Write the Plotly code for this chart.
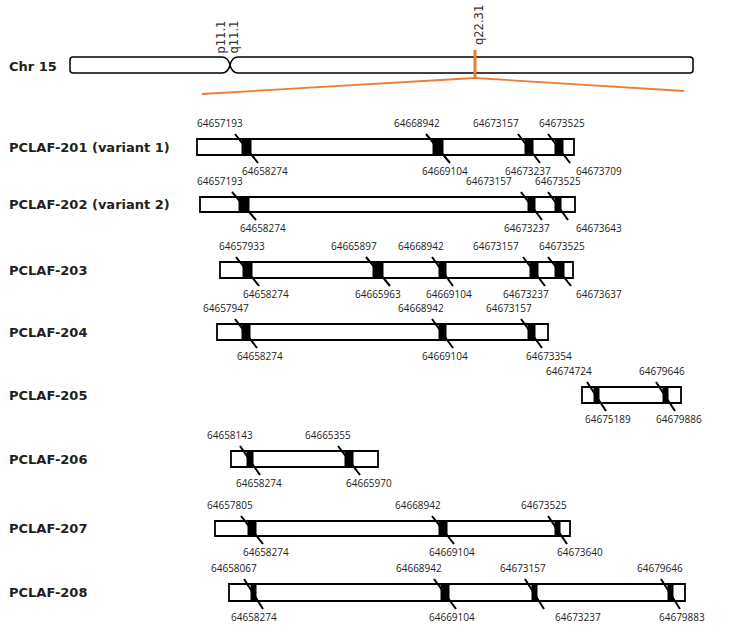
import plotly.graph_objects as go

# ---------------- data ----------------
chromosome = "Chr 15"
bands_centromere = ["p11.1", "q11.1"]
band_locus = "q22.31"

transcripts = [
    "PCLAF-201 (variant 1)",
    "PCLAF-202 (variant 2)",
    "PCLAF-203",
    "PCLAF-204",
    "PCLAF-205",
    "PCLAF-206",
    "PCLAF-207",
    "PCLAF-208",
]
exon_starts = [
    [64657193, 64668942, 64673157, 64673525],
    [64657193, 64673157, 64673525],
    [64657933, 64665897, 64668942, 64673157, 64673525],
    [64657947, 64668942, 64673157],
    [64674724, 64679646],
    [64658143, 64665355],
    [64657805, 64668942, 64673525],
    [64658067, 64668942, 64673157, 64679646],
]
exon_ends = [
    [64658274, 64669104, 64673237, 64673709],
    [64658274, 64673237, 64673643],
    [64658274, 64665963, 64669104, 64673237, 64673637],
    [64658274, 64669104, 64673354],
    [64675189, 64679886],
    [64658274, 64665970],
    [64658274, 64669104, 64673640],
    [64658274, 64669104, 64673237, 64679883],
]

# ------------- schematic layout (drawing units, not data) -------------
row_box = [  # x0, x1, y0, y1
    (197, 574, 139, 155),
    (200, 575, 197, 212),
    (220, 573, 262, 278),
    (217, 548, 324, 340),
    (582, 681, 387, 403),
    (231, 378, 451, 467),
    (215, 570, 521, 536),
    (229, 685, 584, 601),
]
row_exons = [
    [(242, 251), (433, 443), (525, 533), (555, 563)],
    [(239, 249), (528, 535), (555, 561)],
    [(243, 252), (373, 383), (439, 446), (530, 538), (555, 564)],
    [(242, 250), (439, 446), (528, 535)],
    [(594, 599), (663, 668)],
    [(247, 253), (345, 353)],
    [(248, 256), (439, 447), (555, 560)],
    [(251, 256), (441, 449), (532, 537), (668, 673)],
]
row_up_x = [
    [220, 417, 496, 562],
    [220, 489, 558],
    [242, 354, 421, 496, 562],
    [226, 421, 509],
    [569, 662],
    [230, 328],
    [230, 418, 544],
    [234, 419, 523, 660],
]
row_low_x = [
    [265, 445, 528, 599],
    [263, 527, 599],
    [266, 378, 449, 526, 599],
    [260, 445, 549],
    [608, 679],
    [259, 369],
    [266, 452, 580],
    [254, 452, 578, 682],
]

W, H = 729, 625
ORANGE = "#ED7D31"
TXT = "#231f20"
NUMFONT = dict(family="Open Sans", size=10, color="#222222")

shapes = []
annotations = []

# chromosome ideogram
chr_y0, chr_y1, chr_x0, chr_x1, cen = 57, 73, 70, 693, 230
ym = (chr_y0 + chr_y1) / 2
path = (
    f"M {chr_x0+3},{chr_y0} L {cen-8},{chr_y0} Q {cen-2},{chr_y0} {cen},{ym} "
    f"Q {cen+2},{chr_y0} {cen+8},{chr_y0} L {chr_x1-3},{chr_y0} "
    f"Q {chr_x1},{chr_y0} {chr_x1},{chr_y0+3} L {chr_x1},{chr_y1-3} "
    f"Q {chr_x1},{chr_y1} {chr_x1-3},{chr_y1} L {cen+8},{chr_y1} "
    f"Q {cen+2},{chr_y1} {cen},{ym} Q {cen-2},{chr_y1} {cen-8},{chr_y1} "
    f"L {chr_x0+3},{chr_y1} Q {chr_x0},{chr_y1} {chr_x0},{chr_y1-3} "
    f"L {chr_x0},{chr_y0+3} Q {chr_x0},{chr_y0} {chr_x0+3},{chr_y0} Z"
)
shapes.append(dict(type="path", path=path, xref="x", yref="y",
                   line=dict(color="black", width=1.5), fillcolor="white"))

locus_x = 475
shapes.append(dict(type="line", xref="x", yref="y", x0=locus_x, x1=locus_x, y0=50, y1=78,
                   line=dict(color=ORANGE, width=3)))
shapes.append(dict(type="line", xref="x", yref="y", x0=locus_x, x1=202, y0=78, y1=94,
                   line=dict(color=ORANGE, width=1.8)))
shapes.append(dict(type="line", xref="x", yref="y", x0=locus_x, x1=684, y0=78, y1=91,
                   line=dict(color=ORANGE, width=1.8)))

annotations.append(dict(x=7, y=ym + 1, text=f"<b>{chromosome}</b>", xanchor="left", yanchor="middle",
                        showarrow=False, font=dict(family="DejaVu Sans", size=13, color=TXT)))
for name, xx in zip(bands_centromere, [220, 233]):
    annotations.append(dict(x=xx, y=56, text=name, textangle=-90, xanchor="center", yanchor="bottom",
                            showarrow=False, font=dict(family="DejaVu Sans", size=11.5, color="#333333")))
annotations.append(dict(x=479, y=47, text=band_locus, textangle=-90, xanchor="center", yanchor="bottom",
                        showarrow=False, font=dict(family="DejaVu Sans", size=11.5, color="#333333")))

# transcripts
for i, name in enumerate(transcripts):
    x0, x1, y0, y1 = row_box[i]
    yc = (y0 + y1) / 2
    annotations.append(dict(x=7, y=yc, text=f"<b>{name}</b>", xanchor="left", yanchor="middle",
                            showarrow=False, font=dict(family="DejaVu Sans", size=13, color=TXT)))
    shapes.append(dict(type="rect", xref="x", yref="y", x0=x0, x1=x1, y0=y0, y1=y1,
                       line=dict(color="black", width=1.8), fillcolor="white", layer="above"))
    for j, (ex0, ex1) in enumerate(row_exons[i]):
        shapes.append(dict(type="line", xref="x", yref="y", x0=ex0 - 7, y0=y0 - 5, x1=ex1 + 7, y1=y1 + 8,
                           line=dict(color="black", width=2), layer="above"))
        shapes.append(dict(type="rect", xref="x", yref="y", x0=ex0, x1=ex1, y0=y0, y1=y1,
                           line=dict(color="black", width=1), fillcolor="black", layer="above"))
        annotations.append(dict(x=row_up_x[i][j], y=y0 - 16, text=str(exon_starts[i][j]),
                                xanchor="center", yanchor="middle", showarrow=False, font=NUMFONT))
        annotations.append(dict(x=row_low_x[i][j], y=y1 + 16, text=str(exon_ends[i][j]),
                                xanchor="center", yanchor="middle", showarrow=False, font=NUMFONT))

fig = go.Figure()
fig.update_layout(
    width=W, height=H,
    margin=dict(l=0, r=0, t=0, b=0),
    paper_bgcolor="white", plot_bgcolor="white",
    xaxis=dict(range=[0, W], visible=False, fixedrange=True),
    yaxis=dict(range=[H, 0], visible=False, fixedrange=True),
    shapes=shapes, annotations=annotations, showlegend=False,
)
fig.write_html(
    "out.html",
    config={"displayModeBar": False},
    post_script="document.body.style.margin='0px';document.body.style.overflow='hidden';",
)
